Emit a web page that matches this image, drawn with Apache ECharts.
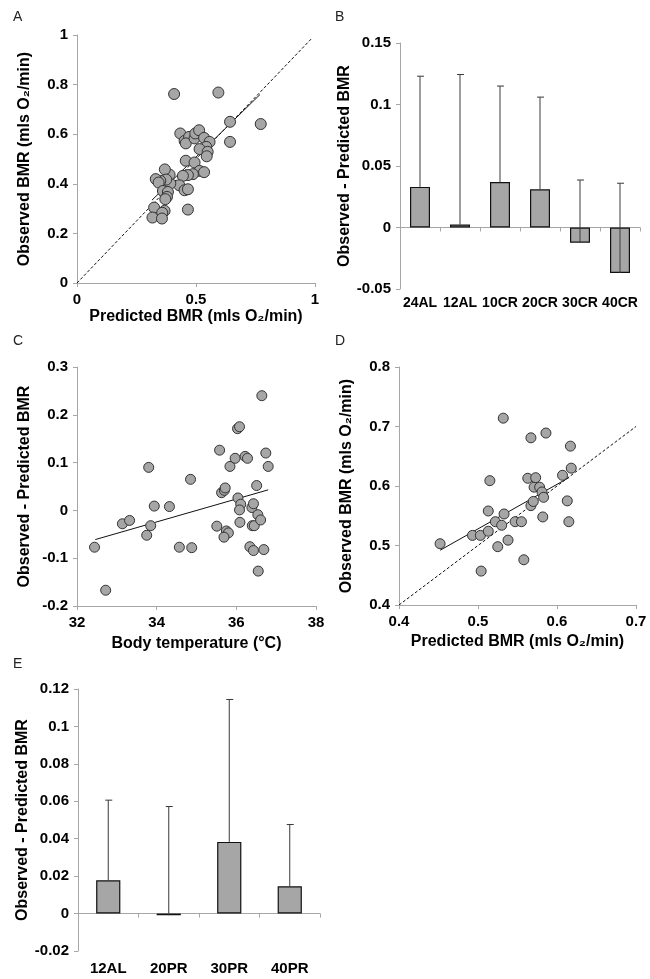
<!DOCTYPE html>
<html>
<head>
<meta charset="utf-8">
<script src="https://cdn.jsdelivr.net/npm/echarts@6/dist/echarts.min.js"></script>
<style>
  html, body { margin: 0; padding: 0; background: #fff; }
  #chart { width: 650px; height: 979px; }
</style>
</head>
<body>
<div id="chart"></div>
<script>
// Panel A: predicted vs observed BMR (all animals)
const aPoints = [
  [0.408, 0.762], [0.594, 0.768], [0.643, 0.650], [0.772, 0.641], [0.643, 0.569],
  [0.434, 0.603], [0.452, 0.573], [0.471, 0.589], [0.457, 0.563], [0.494, 0.583],
  [0.497, 0.603], [0.513, 0.616], [0.534, 0.585], [0.557, 0.569], [0.543, 0.549],
  [0.515, 0.540], [0.549, 0.529], [0.545, 0.511], [0.457, 0.493], [0.494, 0.486],
  [0.515, 0.452], [0.534, 0.447], [0.487, 0.439], [0.466, 0.435], [0.445, 0.432],
  [0.430, 0.394], [0.452, 0.374], [0.466, 0.378], [0.466, 0.296], [0.392, 0.401],
  [0.389, 0.437], [0.369, 0.458], [0.375, 0.417], [0.350, 0.412], [0.331, 0.419],
  [0.343, 0.405], [0.361, 0.371], [0.382, 0.367], [0.378, 0.347], [0.371, 0.338],
  [0.324, 0.304], [0.368, 0.291], [0.358, 0.283], [0.317, 0.264], [0.357, 0.260]
];
const aFit = [[0.315, 0.334], [0.769, 0.760]];
const aUnity = [[0, 0], [0.985, 0.985]];

// Panel B: residuals by diet group
const bGroups = ['24AL', '12AL', '10CR', '20CR', '30CR', '40CR'];
const bMeans = [0.033, 0.0024, 0.037, 0.031, -0.0124, -0.037];
const bSd = [0.090, 0.122, 0.078, 0.075, 0.051, 0.073];

// Panel C: residuals vs body temperature
const cPoints = [
  [32.44, -0.077], [32.72, -0.167], [33.14, -0.028], [33.32, -0.021], [33.75, -0.052],
  [33.80, 0.090], [33.85, -0.032], [33.94, 0.009], [34.32, 0.008], [34.57, -0.077],
  [34.85, 0.065], [34.88, -0.078], [35.58, 0.126], [35.51, -0.033], [35.63, 0.037],
  [35.70, 0.042], [35.72, 0.047], [35.75, -0.043], [35.80, -0.047], [35.69, -0.056],
  [35.84, 0.092], [35.97, 0.109], [36.03, 0.171], [36.08, 0.175], [36.04, 0.026],
  [36.11, 0.013], [36.08, 0.001], [36.09, -0.025], [36.22, 0.113], [36.28, 0.109],
  [36.34, -0.076], [36.39, 0.006], [36.43, 0.014], [36.40, -0.032], [36.45, -0.032],
  [36.43, -0.084], [36.51, 0.052], [36.54, -0.009], [36.55, -0.127], [36.61, -0.020],
  [36.64, 0.240], [36.74, 0.120], [36.69, -0.082], [36.80, 0.092]
];
const cFit = [[32.46, -0.061], [36.80, 0.043]];

// Panel D: predicted vs observed BMR (second set)
const dPoints = [
  [0.452, 0.503], [0.493, 0.517], [0.503, 0.517], [0.504, 0.457], [0.513, 0.524],
  [0.513, 0.558], [0.515, 0.609], [0.522, 0.540], [0.525, 0.498], [0.530, 0.534],
  [0.533, 0.553], [0.532, 0.714], [0.538, 0.509], [0.547, 0.540], [0.555, 0.540],
  [0.558, 0.476], [0.563, 0.613], [0.567, 0.681], [0.567, 0.567], [0.570, 0.574],
  [0.571, 0.598], [0.573, 0.614], [0.578, 0.598], [0.581, 0.590], [0.583, 0.581],
  [0.582, 0.548], [0.586, 0.689], [0.607, 0.618], [0.613, 0.575], [0.615, 0.540],
  [0.617, 0.667], [0.618, 0.630]
];
const dFit = [[0.452, 0.492], [0.615, 0.614]];
const dUnity = [[0.4, 0.4], [0.7, 0.7]];

// Panel E: residuals by protein group
const eGroups = ['12AL', '20PR', '30PR', '40PR'];
const eMeans = [0.0178, -0.0009, 0.0383, 0.0146];
const eSd = [0.0428, 0.0581, 0.0761, 0.0330];

const FONT = 'Liberation Sans';
const AXIS_GREY = '#a6a6a6';
const MARK_GREY = '#a6a6a6';

const axisLine = { show: true, onZero: false, lineStyle: { color: AXIS_GREY, width: 1 } };
const axisTick = { show: true, length: 4, lineStyle: { color: AXIS_GREY } };
const tickFont = { color: '#000', fontWeight: 'bold', fontSize: 15, fontFamily: FONT };
const nameFont = { color: '#000', fontWeight: 'bold', fontSize: 16, fontFamily: FONT };

function valueAxis(grid, min, max, interval, name, nameGap, extra) {
  return Object.assign({
    type: 'value', gridIndex: grid, min: min, max: max, interval: interval,
    name: name, nameLocation: 'middle', nameGap: nameGap, nameTextStyle: nameFont,
    axisLine: axisLine, axisTick: axisTick, splitLine: { show: false },
    axisLabel: Object.assign({ margin: 9 }, tickFont)
  }, extra || {});
}

function errorBars(params, api) {
  const i = api.value(0);
  const v = api.value(1);
  const sd = api.value(2);
  const p0 = api.coord([i, v]);
  const p1 = api.coord([i, v + sd]);
  const style = { stroke: '#3a3a3a', lineWidth: 1 };
  return {
    type: 'group',
    children: [
      { type: 'line', shape: { x1: p0[0], y1: p0[1], x2: p1[0], y2: p1[1] }, style: style },
      { type: 'line', shape: { x1: p1[0] - 3, y1: p1[1], x2: p1[0] + 4, y2: p1[1] }, style: style }
    ]
  };
}

function scatter(grid, points, size) {
  return {
    type: 'scatter', xAxisIndex: grid, yAxisIndex: grid, data: points,
    symbolSize: size, z: 3,
    itemStyle: { color: MARK_GREY, borderColor: '#333', borderWidth: 1, opacity: 1 }
  };
}

function line(grid, points, dashed) {
  return {
    type: 'line', xAxisIndex: grid, yAxisIndex: grid, data: points,
    showSymbol: false, symbol: 'none', z: 2, silent: true,
    lineStyle: { color: '#111', width: 1, type: dashed ? [3, 2] : 'solid' }
  };
}

const grids = [
  { left: 77, top: 35, width: 238, height: 248 },
  { left: 400, top: 43, width: 240, height: 246 },
  { left: 77, top: 367, width: 239, height: 239 },
  { left: 399, top: 367, width: 237, height: 238 },
  { left: 78, top: 689, width: 242, height: 262 }
].map(g => Object.assign({ containLabel: false, outerBoundsMode: 'none' }, g));

const predName = 'Predicted BMR (mls O\u2082/min)';
const obsName = 'Observed BMR (mls O\u2082/min)';
const resName = 'Observed - Predicted BMR';

const xAxes = [
  valueAxis(0, 0, 1, 0.5, predName, 26),
  // bar panel B: line at zero (ticks between groups), labels at bottom
  {
    type: 'category', gridIndex: 1, data: bGroups, position: 'top',
    axisLine: { show: true, onZero: true, lineStyle: { color: AXIS_GREY } },
    axisTick: { show: true, inside: true, length: 4, lineStyle: { color: AXIS_GREY } },
    axisLabel: { show: false }
  },
  valueAxis(2, 32, 38, 2, 'Body temperature (\u00B0C)', 30),
  valueAxis(3, 0.4, 0.7, 0.1, predName, 29),
  {
    type: 'category', gridIndex: 4, data: eGroups, position: 'top',
    axisLine: { show: true, onZero: true, lineStyle: { color: AXIS_GREY } },
    axisTick: { show: true, inside: true, length: 4, lineStyle: { color: AXIS_GREY } },
    axisLabel: { show: false }
  },
  {
    type: 'category', gridIndex: 1, data: bGroups, position: 'bottom',
    axisLine: { show: false, onZero: false }, axisTick: { show: false },
    axisLabel: Object.assign({}, tickFont, { margin: 7, interval: 0, fontSize: 14 })
  },
  {
    type: 'category', gridIndex: 4, data: eGroups, position: 'bottom',
    axisLine: { show: false, onZero: false }, axisTick: { show: false },
    axisLabel: Object.assign({ margin: 10, interval: 0 }, tickFont)
  }
];

const yAxes = [
  valueAxis(0, 0, 1, 0.2, obsName, 44),
  valueAxis(1, -0.05, 0.15, 0.05, resName, 44),
  valueAxis(2, -0.2, 0.3, 0.1, resName, 44),
  valueAxis(3, 0.4, 0.8, 0.1, obsName, 44),
  valueAxis(4, -0.02, 0.12, 0.02, resName, 44)
];

const barStyle = { color: MARK_GREY, borderColor: '#111', borderWidth: 1.2 };

const series = [
  line(0, aUnity, true),
  line(0, aFit, false),
  scatter(0, aPoints, 11),
  {
    type: 'bar', xAxisIndex: 1, yAxisIndex: 1, barWidth: '50%',
    data: bMeans, itemStyle: barStyle
  },
  {
    type: 'custom', xAxisIndex: 1, yAxisIndex: 1, z: 4,
    renderItem: errorBars, encode: { x: 0, y: 1 },
    data: bMeans.map((m, i) => [i, m, bSd[i]])
  },
  line(2, cFit, false),
  scatter(2, cPoints, 10),
  line(3, dUnity, true),
  line(3, dFit, false),
  scatter(3, dPoints, 10),
  {
    type: 'bar', xAxisIndex: 4, yAxisIndex: 4, barWidth: '40%',
    data: eMeans, itemStyle: barStyle
  },
  {
    type: 'custom', xAxisIndex: 4, yAxisIndex: 4, z: 4,
    renderItem: errorBars, encode: { x: 0, y: 1 },
    data: eMeans.map((m, i) => [i, m, eSd[i]])
  }
];

const letters = [['A', 13, 10], ['B', 335, 10], ['C', 13, 334], ['D', 335, 334], ['E', 13, 657]];

const chart = echarts.init(document.getElementById('chart'), null, { renderer: 'canvas' });
chart.setOption({
  animation: false,
  backgroundColor: '#fff',
  grid: grids,
  xAxis: xAxes,
  yAxis: yAxes,
  series: series,
  graphic: letters.map(l => ({
    type: 'text', left: l[1], top: l[2],
    style: { text: l[0], fontSize: 14, fontFamily: FONT, fill: '#222' }
  }))
});
</script>
</body>
</html>
